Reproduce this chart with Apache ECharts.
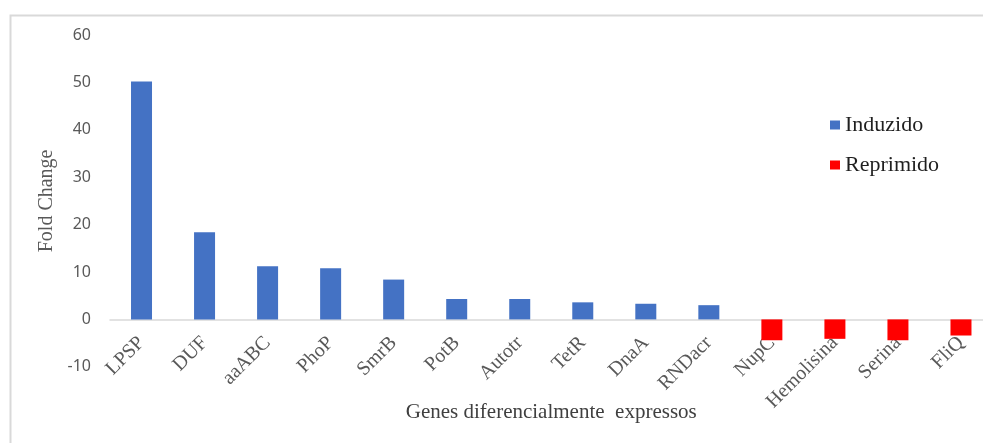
<!DOCTYPE html>
<html>
<head>
<meta charset="utf-8">
<script src="https://cdn.jsdelivr.net/npm/echarts@6/dist/echarts.min.js"></script>
<style>
  html, body { margin: 0; padding: 0; background: #ffffff; }
  #chart { width: 983px; height: 443px; }
</style>
</head>
<body>
<div id="chart"></div>
<script>
// Genes and their fold change values
const genes = ['LPSP', 'DUF', 'aaABC', 'PhoP', 'SmrB', 'PotB', 'Autotr', 'TetR', 'DnaA', 'RNDacr', 'NupC', 'Hemolisina', 'Serina', 'FliQ'];
const induzido = [50.2, 18.4, 11.2, 10.8, 8.4, 4.3, 4.3, 3.6, 3.3, 3.0, null, null, null, null];
const reprimido = [null, null, null, null, null, null, null, null, null, null, -4.4, -4.1, -4.4, -3.4];
const yTicks = { min: -10, max: 60, step: 10 };

const serif = '"Liberation Serif", "DejaVu Serif", serif';
const sans = '"Noto Sans", "Open Sans", sans-serif';

const chart = echarts.init(document.getElementById('chart'), null, { renderer: 'canvas' });

chart.setOption({
  backgroundColor: '#ffffff',
  animation: false,
  graphic: [{
    type: 'rect',
    left: 8,
    top: 13,
    shape: { width: 1100, height: 600 },
    style: { fill: 'none', stroke: '#d9d9d9', lineWidth: 2 },
    silent: true
  }],
  grid: { left: 110, right: -9.5, top: 35, bottom: 76.2, containLabel: false, outerBoundsMode: 'none' },
  legend: {
    orient: 'vertical',
    left: 825,
    top: 109,
    itemWidth: 10,
    itemHeight: 9,
    itemGap: 18,
    icon: 'rect',
    textStyle: { fontFamily: serif, fontSize: 22, color: '#1f1f1f' },
    data: ['Induzido', 'Reprimido']
  },
  xAxis: {
    type: 'category',
    data: genes,
    name: 'Genes diferencialmente  expressos',
    nameLocation: 'middle',
    nameGap: 35,
    nameMoveOverlap: false,
    nameTextStyle: { fontFamily: serif, fontSize: 21, color: '#404040' },
    axisLine: { onZero: true, lineStyle: { color: '#d9d9d9', width: 1.5 } },
    axisTick: { show: false },
    axisLabel: {
      interval: 0,
      rotate: 45,
      margin: -27,
      fontFamily: serif,
      fontSize: 20,
      color: '#595959'
    }
  },
  yAxis: {
    type: 'value',
    min: yTicks.min,
    max: yTicks.max,
    interval: yTicks.step,
    name: 'Fold Change',
    nameLocation: 'middle',
    nameGap: 49,
    nameRotate: 90,
    nameTextStyle: { fontFamily: serif, fontSize: 20, color: '#595959' },
    axisLine: { show: false },
    axisTick: { show: false },
    splitLine: { show: false },
    axisLabel: { margin: 19, fontFamily: sans, fontSize: 16, color: '#595959' }
  },
  series: [
    {
      name: 'Induzido',
      type: 'bar',
      stack: 'fc',
      barWidth: 21,
      data: induzido,
      itemStyle: { color: '#4472c4' }
    },
    {
      name: 'Reprimido',
      type: 'bar',
      stack: 'fc',
      barWidth: 21,
      data: reprimido,
      itemStyle: { color: '#ff0000' }
    }
  ]
});
</script>
</body>
</html>
